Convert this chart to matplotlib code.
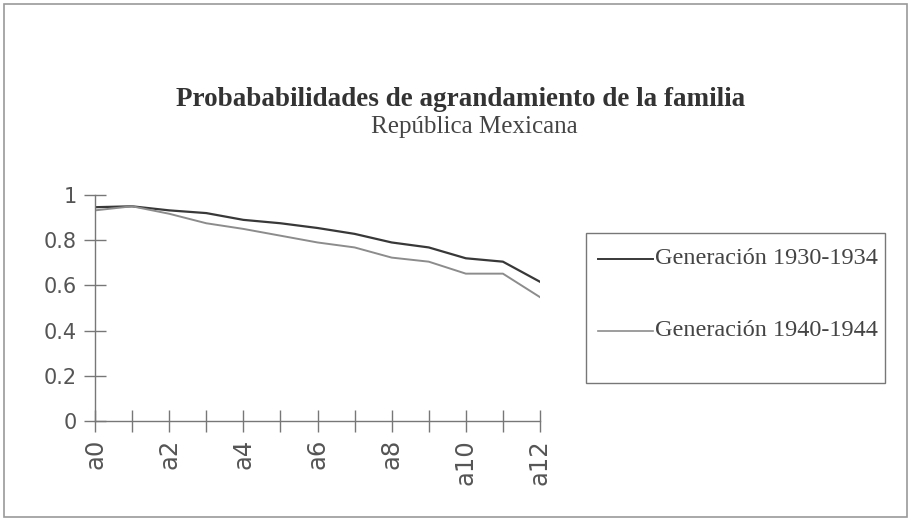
import matplotlib
matplotlib.use("Agg")
import matplotlib.pyplot as plt
from matplotlib.patches import Rectangle
from matplotlib.lines import Line2D

categories = ["a0", "a1", "a2", "a3", "a4", "a5", "a6", "a7", "a8", "a9", "a10", "a11", "a12"]
gen_1930 = [0.946, 0.950, 0.932, 0.920, 0.890, 0.875, 0.854, 0.828, 0.790, 0.768, 0.720, 0.705, 0.616]
gen_1940 = [0.932, 0.950, 0.917, 0.875, 0.850, 0.820, 0.790, 0.768, 0.723, 0.705, 0.652, 0.652, 0.548]
series_names = ["Generación 1930-1934", "Generación 1940-1944"]
yticks = [0, 0.2, 0.4, 0.6, 0.8, 1]
ytick_labels = ["0", "0.2", "0.4", "0.6", "0.8", "1"]
title = "Probababilidades de agrandamiento de la familia"
subtitle = "República Mexicana"

W, H = 908, 519
fig = plt.figure(figsize=(W / 100, H / 100), dpi=100)
fig.patch.set_facecolor("white")

# outer frame
fig.add_artist(Rectangle((4 / W, 2 / H), 903 / W, 513 / H, transform=fig.transFigure,
                         fill=False, edgecolor="#9a9a9a", linewidth=1.2))

ax_left, ax_right = 95, 540
ax_top, ax_bottom = 195, 421
ax = fig.add_axes([ax_left / W, 1 - ax_bottom / H, (ax_right - ax_left) / W, (ax_bottom - ax_top) / H])
ax.set_facecolor("none")

x = list(range(len(categories)))
ax.plot(x, gen_1930, color="#383838", linewidth=1.6, label=series_names[0])
ax.plot(x, gen_1940, color="#8c8c8c", linewidth=1.4, label=series_names[1])

ax.set_xlim(0, len(categories) - 1)
ax.set_ylim(0, 1)
for s in ["top", "right"]:
    ax.spines[s].set_visible(False)
for s in ["left", "bottom"]:
    ax.spines[s].set_color("#777777")
    ax.spines[s].set_linewidth(1.0)

ax.set_yticks(yticks)
ax.set_yticklabels(ytick_labels, fontfamily="DejaVu Sans", fontsize=15, color="#555555")
ax.set_xticks(x)
ax.set_xticklabels([c if i % 2 == 0 else "" for i, c in enumerate(categories)],
                   rotation=90, fontfamily="DejaVu Sans", fontsize=17.5, color="#555555")
ax.tick_params(axis="both", direction="inout", length=16, width=1.0, color="#777777")
ax.tick_params(axis="y", pad=5)
ax.tick_params(axis="x", pad=5)

fig.text(461 / W, 1 - 99 / H, title, ha="center", va="center",
         fontfamily="Liberation Serif", fontweight="bold", fontsize=19.5, color="#333333")
fig.text(474 / W, 1 - 127 / H, subtitle, ha="center", va="center",
         fontfamily="Liberation Serif", fontsize=18, color="#444444")

# legend box
lx0, lx1, ly0, ly1 = 586, 885, 233, 383
fig.add_artist(Rectangle((lx0 / W, 1 - ly1 / H), (lx1 - lx0) / W, (ly1 - ly0) / H,
                         transform=fig.transFigure, fill=False, edgecolor="#777777", linewidth=1.0))
for name, col, lw, yy in [(series_names[0], "#383838", 1.4, 259), (series_names[1], "#8c8c8c", 1.2, 331)]:
    fig.add_artist(Line2D([598 / W, 653 / W], [1 - yy / H, 1 - yy / H], transform=fig.transFigure,
                          color=col, linewidth=lw))
    fig.text(655 / W, 1 - yy / H, name, ha="left", va="center",
             fontfamily="Liberation Serif", fontsize=17.5, color="#444444")

fig.savefig("out.png", dpi=100, facecolor="white")
